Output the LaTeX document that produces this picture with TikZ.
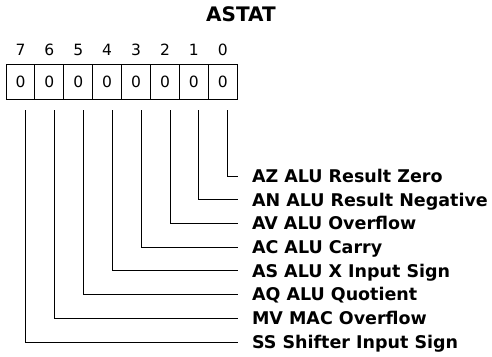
\documentclass[tikz,border=0pt]{standalone}
\usepackage{fontspec}
\setmainfont{DejaVu Sans}
\usetikzlibrary{positioning}

\begin{document}
\begin{tikzpicture}[
        x=1pt, y=-1pt,
        bitcell/.style={draw, line width=0.9pt, rectangle, minimum width=28.9pt, minimum height=35pt, inner sep=0pt, outer sep=0pt, font=\fontsize{15.5}{17}\selectfont},
        bitnum/.style={inner sep=0pt, font=\fontsize{15.5}{17}\selectfont},
        flagname/.style={anchor=west, inner sep=0pt, outer xsep=14pt, outer ysep=0pt, text height=12.6pt, text depth=0pt, font=\fontsize{17.5}{20}\selectfont\bfseries},
        regname/.style={inner sep=0pt, font=\fontsize{20}{24}\selectfont\bfseries},
        link/.style={line width=0.9pt}
    ]
    \useasboundingbox (0,0) rectangle (492,356);

    \node[regname] (Title) at (241,14.5) {ASTAT};

    \node[bitcell] (C7) at (20.45,81.5) {0};
    \node[bitcell, right=0pt of C7] (C6) {0};
    \node[bitcell, right=0pt of C6] (C5) {0};
    \node[bitcell, right=0pt of C5] (C4) {0};
    \node[bitcell, right=0pt of C4] (C3) {0};
    \node[bitcell, right=0pt of C3] (C2) {0};
    \node[bitcell, right=0pt of C2] (C1) {0};
    \node[bitcell, right=0pt of C1] (C0) {0};

    \node[bitnum, above=8pt of C7] (N7) {7};
    \node[bitnum, above=8pt of C6] (N6) {6};
    \node[bitnum, above=8pt of C5] (N5) {5};
    \node[bitnum, above=8pt of C4] (N4) {4};
    \node[bitnum, above=8pt of C3] (N3) {3};
    \node[bitnum, above=8pt of C2] (N2) {2};
    \node[bitnum, above=8pt of C1] (N1) {1};
    \node[bitnum, above=8pt of C0] (N0) {0};

    \node[flagname] (AZ) at (238,176) {AZ ALU Result Zero};
    \node[flagname] (AN) at (238,199.7) {AN ALU Result Negative};
    \node[flagname] (AV) at (238,223.4) {AV ALU Overflow};
    \node[flagname] (AC) at (238,247.1) {AC ALU Carry};
    \node[flagname] (AS) at (238,270.8) {AS ALU X Input Sign};
    \node[flagname] (AQ) at (238,294.5) {AQ ALU Quotient};
    \node[flagname] (MV) at (238,318.2) {MV MAC Overflow};
    \node[flagname] (SS) at (238,342) {SS Shifter Input Sign};

    \draw[link] ([xshift=5pt,yshift=-11pt]C0.south) |- (AZ.west);
    \draw[link] ([xshift=5pt,yshift=-11pt]C1.south) |- (AN.west);
    \draw[link] ([xshift=5pt,yshift=-11pt]C2.south) |- (AV.west);
    \draw[link] ([xshift=5pt,yshift=-11pt]C3.south) |- (AC.west);
    \draw[link] ([xshift=5pt,yshift=-11pt]C4.south) |- (AS.west);
    \draw[link] ([xshift=5pt,yshift=-11pt]C5.south) |- (AQ.west);
    \draw[link] ([xshift=5pt,yshift=-11pt]C6.south) |- (MV.west);
    \draw[link] ([xshift=5pt,yshift=-11pt]C7.south) |- (SS.west);

\end{tikzpicture}
\end{document}
